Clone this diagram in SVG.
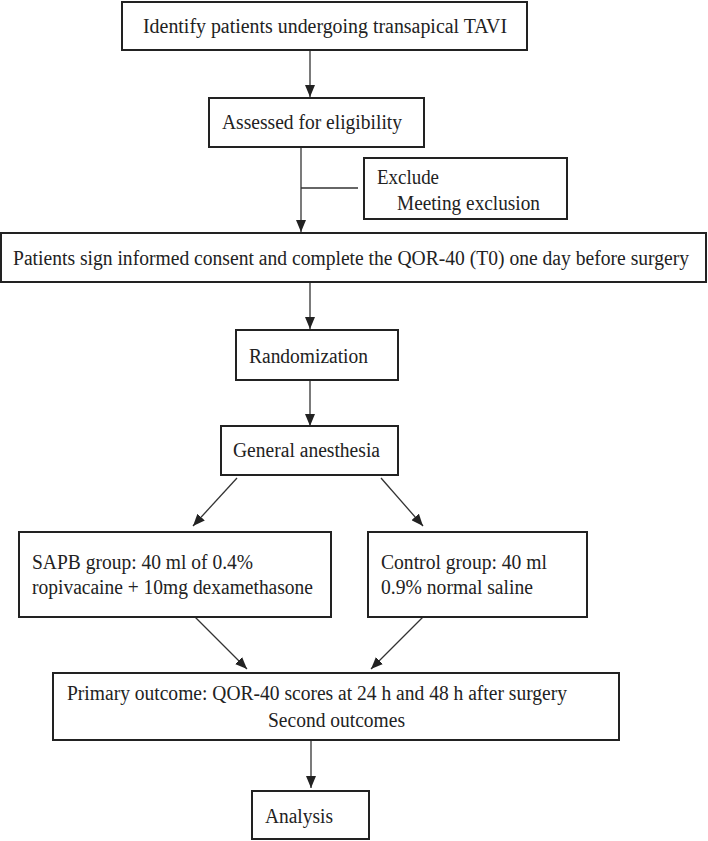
<svg xmlns="http://www.w3.org/2000/svg" width="708" height="841" viewBox="0 0 708 841">
<style>
.box{fill:#fff;stroke:#222;stroke-width:2}
.t{font-family:"Liberation Serif","Times New Roman",serif;font-size:20px;fill:#222}
.c{stroke:#333;stroke-width:1.3;fill:none}
</style>
<defs>
<marker id="ah" markerUnits="userSpaceOnUse" markerWidth="12" markerHeight="10" refX="12" refY="5" orient="auto">
<path d="M0,0 L12,5 L0,10 z" fill="#222"/>
</marker>
</defs>
<rect width="708" height="841" fill="#fff"/>
<g id="connectors">
<line class="c" x1="310" y1="50" x2="310" y2="97" marker-end="url(#ah)"/>
<line class="c" x1="301" y1="147" x2="301" y2="232" marker-end="url(#ah)"/>
<line class="c" x1="301" y1="188" x2="358" y2="188" stroke="#666"/>
<line class="c" x1="310" y1="282" x2="310" y2="329" marker-end="url(#ah)"/>
<line class="c" x1="310" y1="380" x2="310" y2="426" marker-end="url(#ah)"/>
<line class="c" x1="237" y1="478" x2="193" y2="526" marker-end="url(#ah)"/>
<line class="c" x1="381" y1="478" x2="423" y2="526" marker-end="url(#ah)"/>
<line class="c" x1="195" y1="617" x2="247" y2="669" marker-end="url(#ah)"/>
<line class="c" x1="423" y1="617" x2="371" y2="669" marker-end="url(#ah)"/>
<line class="c" x1="311" y1="740" x2="311" y2="788" marker-end="url(#ah)"/>
</g>
<g id="identify">
<rect class="box" x="122" y="2" width="405" height="48"/>
<text class="t" x="143" y="33" textLength="364" lengthAdjust="spacingAndGlyphs">Identify patients undergoing transapical TAVI</text>
</g>
<g id="assessed">
<rect class="box" x="209" y="98" width="215" height="49"/>
<text class="t" x="222" y="129" textLength="180" lengthAdjust="spacingAndGlyphs">Assessed for eligibility</text>
</g>
<g id="exclude">
<rect class="box" x="364" y="158" width="203" height="61"/>
<text class="t" x="377" y="184" textLength="62" lengthAdjust="spacingAndGlyphs">Exclude</text>
<text class="t" x="397" y="210" textLength="143" lengthAdjust="spacingAndGlyphs">Meeting exclusion</text>
</g>
<g id="consent">
<rect class="box" x="1" y="233" width="705" height="49"/>
<text class="t" x="13" y="265" textLength="676" lengthAdjust="spacingAndGlyphs">Patients sign informed consent and complete the QOR-40 (T0) one day before surgery</text>
</g>
<g id="randomization">
<rect class="box" x="236" y="330" width="162" height="50"/>
<text class="t" x="249" y="363" textLength="119" lengthAdjust="spacingAndGlyphs">Randomization</text>
</g>
<g id="anesthesia">
<rect class="box" x="221" y="426" width="177" height="49"/>
<text class="t" x="233" y="457" textLength="147" lengthAdjust="spacingAndGlyphs">General anesthesia</text>
</g>
<g id="sapb">
<rect class="box" x="19" y="532" width="312" height="85"/>
<text class="t" x="32" y="569" textLength="221" lengthAdjust="spacingAndGlyphs">SAPB group: 40 ml of 0.4%</text>
<text class="t" x="32" y="594" textLength="281" lengthAdjust="spacingAndGlyphs">ropivacaine + 10mg dexamethasone</text>
</g>
<g id="control">
<rect class="box" x="368" y="532" width="219" height="85"/>
<text class="t" x="381" y="569" textLength="166" lengthAdjust="spacingAndGlyphs">Control group: 40 ml</text>
<text class="t" x="381" y="594" textLength="152" lengthAdjust="spacingAndGlyphs">0.9% normal saline</text>
</g>
<g id="outcome">
<rect class="box" x="53" y="673" width="566" height="67"/>
<text class="t" x="67" y="700" textLength="500" lengthAdjust="spacingAndGlyphs">Primary outcome: QOR-40 scores at 24 h and 48 h after surgery</text>
<text class="t" x="268" y="727" textLength="137" lengthAdjust="spacingAndGlyphs">Second outcomes</text>
</g>
<g id="analysis">
<rect class="box" x="252" y="791" width="117" height="48"/>
<text class="t" x="265" y="823" textLength="68" lengthAdjust="spacingAndGlyphs">Analysis</text>
</g>
</svg>
